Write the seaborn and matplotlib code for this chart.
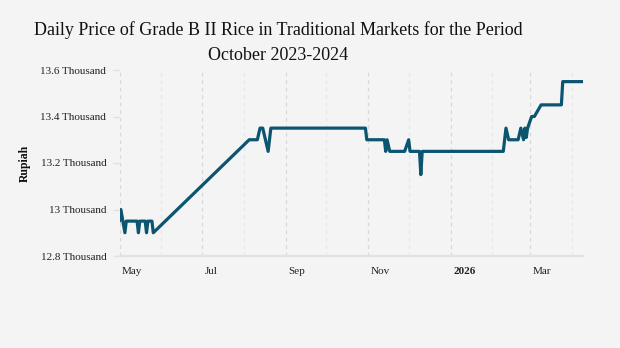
import matplotlib
matplotlib.use("Agg")
import matplotlib.pyplot as plt
import matplotlib.transforms as mtransforms
import seaborn as sns
import pandas as pd

# ---- data ----
dates = [
    "2025-05-01", "2025-05-02", "2025-05-05", "2025-05-06", "2025-05-14", "2025-05-15",
    "2025-05-16", "2025-05-20", "2025-05-21", "2025-05-22", "2025-05-25", "2025-05-26",
    "2025-08-05", "2025-08-11", "2025-08-13", "2025-08-15", "2025-08-19", "2025-08-21",
    "2025-10-30", "2025-10-31", "2025-11-13", "2025-11-14", "2025-11-15", "2025-11-17",
    "2025-11-28", "2025-12-01", "2025-12-02", "2025-12-09", "2025-12-10", "2025-12-11",
    "2026-02-09", "2026-02-11", "2026-02-13", "2026-02-20", "2026-02-22", "2026-02-24",
    "2026-02-25", "2026-02-26", "2026-02-27", "2026-03-02", "2026-03-04", "2026-03-09",
    "2026-03-24", "2026-03-25", "2026-04-09",
]
prices = [
    12950, 13000, 12900, 12950, 12950, 12900,
    12950, 12950, 12900, 12950, 12950, 12900,
    13300, 13300, 13350, 13350, 13250, 13350,
    13350, 13300, 13300, 13250, 13300, 13250,
    13250, 13300, 13250, 13250, 13150, 13250,
    13250, 13350, 13300, 13300, 13350, 13300,
    13350, 13310, 13350, 13400, 13400, 13450,
    13450, 13550, 13550,
]
y_ticks = [12800, 13000, 13200, 13400, 13600]
y_tick_labels = ["12.8 Thousand", "13 Thousand", "13.2 Thousand", "13.4 Thousand", "13.6 Thousand"]
x_major = ["2025-05-01", "2025-07-01", "2025-09-01", "2025-11-01", "2026-01-01", "2026-03-01"]
x_major_labels = ["May", "Jul", "Sep", "Nov", "2026", "Mar"]
x_minor = ["2025-06-01", "2025-08-01", "2025-10-01", "2025-12-01", "2026-02-01", "2026-04-01"]
title = "Daily Price of Grade B II Rice in Traditional Markets for the Period\nOctober 2023-2024"
y_label = "Rupiah"

df = pd.DataFrame({"date": pd.to_datetime(dates), "price": prices})

BG = "#f4f4f4"
LINE = "#0b5571"
SERIF = ["Liberation Serif", "DejaVu Serif"]

sns.set_theme(style="white")
plt.rcParams["font.family"] = SERIF

fig = plt.figure(figsize=(6.2, 3.48), dpi=100, facecolor=BG)
ax = fig.add_axes([119.5 / 620, 1 - 256 / 348, (583 - 119.5) / 620, (256 - 70) / 348])
ax.set_facecolor(BG)

sns.lineplot(data=df, x="date", y="price", ax=ax, color=LINE, linewidth=2.3)

ax.set_xlim(df["date"].min(), df["date"].max())
ax.set_ylim(12800, 13600)

# vertical dashed grid
for d in x_major:
    ax.axvline(pd.Timestamp(d), color="#d8d8d8", linestyle=(0, (3, 3)), linewidth=0.9, zorder=0)
for d in x_minor:
    ax.axvline(pd.Timestamp(d), color="#e6e6e6", linestyle=(0, (3, 3)), linewidth=0.9, zorder=0)

for s in ["top", "right", "left"]:
    ax.spines[s].set_visible(False)
ax.spines["bottom"].set_color("#e2e2e2")
ax.spines["bottom"].set_linewidth(1.6)

ax.set_yticks(y_ticks)
ax.set_yticklabels(y_tick_labels, fontsize=8, color="#222222", family=SERIF)
ax.tick_params(axis="y", length=5, width=1, color="#e2e2e2", pad=4.5, left=True)

ax.set_xticks([pd.Timestamp(d) for d in x_major])
ax.set_xticklabels(x_major_labels, fontsize=8, color="#222222", family=SERIF, ha="left")
ax.tick_params(axis="x", length=0, pad=8, bottom=True)
offset = mtransforms.ScaledTranslation(2.5 / 100, 0, fig.dpi_scale_trans)
for lab in ax.get_xticklabels():
    lab.set_transform(lab.get_transform() + offset)
    if lab.get_text() == "2026":
        lab.set_fontweight("bold")

ax.set_xlabel("")
ax.set_ylabel("")
fig.text(25 / 620, 1 - 163 / 348, y_label, rotation=90, ha="center", va="center",
         fontsize=8.5, fontweight="bold", color="#111111", family=SERIF)

fig.text(278 / 620, 1 - 42.5 / 348, title, ha="center", va="center", fontsize=13,
         color="#111111", family=SERIF, linespacing=1.6)

fig.savefig("out.png", dpi=100, facecolor=BG)
